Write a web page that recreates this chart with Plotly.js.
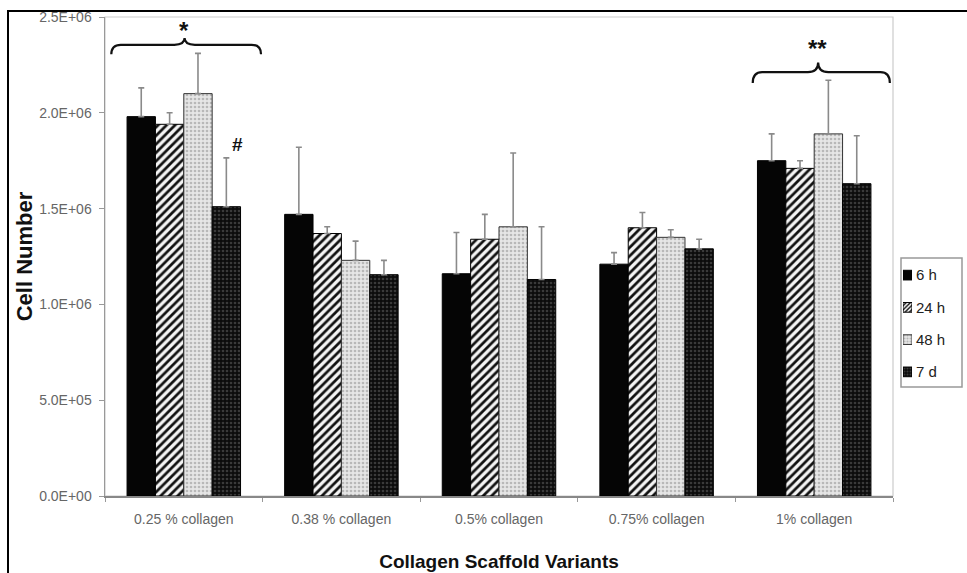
<!DOCTYPE html>
<html>
<head>
<meta charset="utf-8">
<script src="https://cdn.plot.ly/plotly-3.0.1.min.js"></script>
<style>
html,body{margin:0;padding:0;background:#fff;}
#frame{position:absolute;left:7px;top:10px;width:980px;height:580px;border-left:2px solid #000;border-top:2px solid #000;}
#chart{position:absolute;left:0;top:0;width:967px;height:573px;}
</style>
</head>
<body>
<div id="chart"></div>
<div id="frame"></div>
<script>
const categories = ["0.25 % collagen", "0.38 % collagen", "0.5% collagen", "0.75% collagen", "1% collagen"];
const seriesNames = ["6 h", "24 h", "48 h", "7 d"];
const v6h  = [1.98e6, 1.47e6, 1.16e6, 1.21e6, 1.75e6];
const e6h  = [0.15e6, 0.35e6, 0.215e6, 0.06e6, 0.14e6];
const v24h = [1.94e6, 1.37e6, 1.34e6, 1.40e6, 1.71e6];
const e24h = [0.06e6, 0.035e6, 0.13e6, 0.08e6, 0.04e6];
const v48h = [2.10e6, 1.23e6, 1.405e6, 1.35e6, 1.89e6];
const e48h = [0.21e6, 0.10e6, 0.385e6, 0.04e6, 0.28e6];
const v7d  = [1.51e6, 1.155e6, 1.13e6, 1.29e6, 1.63e6];
const e7d  = [0.255e6, 0.075e6, 0.275e6, 0.05e6, 0.25e6];
const yTickVals = [0, 5e5, 1e6, 1.5e6, 2e6, 2.5e6];
const yTickText = ["0.0E+00", "5.0E+05", "1.0E+06", "1.5E+06", "2.0E+06", "2.5E+06"];

// series styles
const fillColor = ['#050505', '#f4f4f4', '#e6e6e6', '#0c0c0c'];
const lineColor = ['#000', '#000', '#333', '#000'];
const patShape  = ['', '/', '.', '.'];
const patFg     = ['#050505', '#111', '#b8b8b8', '#3a3a3a'];
const patBg     = ['#050505', '#f4f4f4', '#e6e6e6', '#0c0c0c'];
const patSize   = [6, 6, 4, 4];
const patSolid  = [0.3, 0.45, 0.35, 0.35];

const values = [v6h, v24h, v48h, v7d];
const errors = [e6h, e24h, e48h, e7d];
const zeros = categories.map(() => 0);
function err(arr){ return {type:'data', symmetric:false, array:arr, arrayminus:zeros, color:'#8a8a8a', thickness:1.6, width:3}; }

const traces = seriesNames.map((name, i) => ({
  type:'bar', name:name, x:categories, y:values[i], error_y:err(errors[i]),
  showlegend:false,
  marker:{color:fillColor[i], line:{color:lineColor[i], width:1},
    pattern:{shape:patShape[i], fgcolor:patFg[i], bgcolor:patBg[i], size:patSize[i], solidity:patSolid[i]}}
}));

// legend swatches drawn as tiny horizontal bars
seriesNames.forEach((name, i) => {
  traces.push({
    type:'bar', orientation:'h', xaxis:'x2', yaxis:'y2', showlegend:false,
    y:[name], x:[1], width:0.3, offset:-0.15,
    marker:{color:fillColor[i], line:{color:lineColor[i], width:1},
      pattern:{shape:patShape[i], fgcolor:patFg[i], bgcolor:patBg[i], size:3, solidity:patSolid[i]}}
  });
});

const tip = '#111';
const fam = 'Liberation Sans, Arial, sans-serif';
const mainRight = 788/857;
const layout = {
  width:967, height:573,
  margin:{l:105, r:5, t:17, b:77},
  paper_bgcolor:'#fff', plot_bgcolor:'rgba(0,0,0,0)',
  font:{family:fam, color:'#555', size:14},
  barmode:'group', bargap:0.28, bargroupgap:0,
  showlegend:false,
  xaxis:{domain:[0, mainRight], type:'category', tickson:'boundaries', ticks:'outside', ticklen:4, tickcolor:'#999',
    showline:true, linecolor:'#888', linewidth:1.5, showgrid:false, ticklabelstandoff:10,
    tickfont:{size:14, color:'#666'},
    title:{text:'Collagen Scaffold Variants', standoff:28,
      font:{family:fam, size:19, color:'#111', weight:'bold'}}},
  yaxis:{range:[0, 2.5e6], tickvals:yTickVals, ticktext:yTickText, ticks:'outside', ticklen:5, tickcolor:'#999',
    showline:true, linecolor:'#999', linewidth:1.5, showgrid:false, zeroline:false, ticklabelstandoff:4,
    tickfont:{size:14, color:'#666'},
    title:{text:'Cell Number', standoff:0,
      font:{family:fam, size:22, color:'#111', weight:'bold'}}},
  xaxis2:{domain:[(903-105)/857, (912-105)/857], range:[0,1], anchor:'y2', visible:false, fixedrange:true},
  yaxis2:{domain:[(496-388)/479, (496-259)/479], anchor:'x2', type:'category', autorange:'reversed',
    side:'right', showline:false, showgrid:false, zeroline:false, ticks:'', ticklabelstandoff:3,
    tickfont:{family:fam, size:15, color:'#222'}},
  shapes:[
    {type:'rect', xref:'x domain', yref:'y domain', x0:0, x1:1, y0:0, y1:1, line:{color:'#ccc', width:1.2}, layer:'below'},
    {type:'rect', xref:'paper', yref:'paper', x0:(901-105)/857, x1:(962-105)/857, y0:(496-387)/479, y1:(496-258)/479,
     line:{color:'#999', width:1.5}, fillcolor:'rgba(0,0,0,0)', layer:'above'},
    {type:'path', xref:'x', yref:'y',
     path:'M -0.46,2.305e6 Q -0.46,2.355e6 -0.40,2.355e6 L -0.06,2.355e6 Q 0.005,2.355e6 0.005,2.39e6 Q 0.005,2.355e6 0.07,2.355e6 L 0.43,2.355e6 Q 0.49,2.355e6 0.49,2.305e6',
     line:{color:tip, width:2.2}},
    {type:'path', xref:'x', yref:'y',
     path:'M 3.61,2.155e6 Q 3.61,2.212e6 3.67,2.212e6 L 3.96,2.212e6 Q 4.025,2.212e6 4.025,2.262e6 Q 4.025,2.212e6 4.09,2.212e6 L 4.42,2.212e6 Q 4.48,2.212e6 4.48,2.155e6',
     line:{color:tip, width:2.2}}
  ],
  annotations:[
    {x:0.0, y:2.43e6, xref:'x', yref:'y', text:'*', showarrow:false,
     font:{family:fam, size:24, color:'#111', weight:'bold'}},
    {x:4.02, y:2.335e6, xref:'x', yref:'y', text:'**', showarrow:false,
     font:{family:fam, size:24, color:'#111', weight:'bold'}},
    {x:0.34, y:1.835e6, xref:'x', yref:'y', text:'#', showarrow:false,
     font:{family:fam, size:19, color:'#111', weight:'bold'}}
  ]
};

Plotly.newPlot('chart', traces, layout, {displayModeBar:false, staticPlot:true});
</script>
</body>
</html>
